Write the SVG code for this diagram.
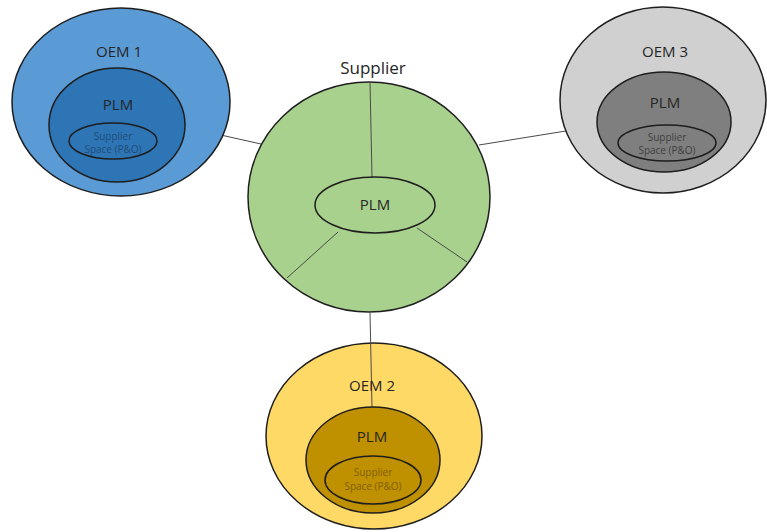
<svg xmlns="http://www.w3.org/2000/svg" width="767" height="532" viewBox="0 0 767 532">
  <style>
    .shape { stroke: #1e1e1e; stroke-width: 1.5; }
    .link { stroke: #4a4a4a; stroke-width: 1; fill: none; }
    text { font-family: "Open Sans", "Liberation Sans", sans-serif; text-anchor: middle; }
    .title { font-size: 15px; fill: #262626; }
    .plm { font-size: 15px; fill: #262626; }
    .space { font-size: 10px; }
  </style>
  <rect width="767" height="532" fill="#ffffff"/>

  <!-- connectors between the supplier hub and each OEM -->
  <g id="connectors">
    <line class="link" x1="185" y1="127" x2="261" y2="144"/>
    <line class="link" x1="479" y1="145" x2="597" y2="126"/>
  </g>

  <!-- supplier hub -->
  <g id="supplier">
    <ellipse class="shape" cx="369" cy="197" rx="121" ry="115" fill="#a9d18e"/>
    <line class="link" x1="370" y1="82" x2="372" y2="177"/>
    <line class="link" x1="338" y1="232" x2="287" y2="278"/>
    <line class="link" x1="417" y1="228" x2="467" y2="262"/>
    <ellipse class="shape" cx="375" cy="205" rx="60" ry="28" fill="#a9d18e"/>
    <text class="plm" x="375" y="210">PLM</text>
    <text x="373" y="74" font-size="17" fill="#262626">Supplier</text>
  </g>

  <!-- OEM 1 -->
  <g id="oem1">
    <ellipse class="shape" cx="121" cy="102" rx="109" ry="94" fill="#5b9bd5"/>
    <ellipse class="shape" cx="117" cy="125" rx="68" ry="57" fill="#2e75b6"/>
    <ellipse class="shape" cx="113" cy="141" rx="44" ry="18" fill="#2e75b6"/>
    <text class="title" x="119" y="57">OEM 1</text>
    <text class="plm" x="118" y="110">PLM</text>
    <text class="space" x="113" y="140" fill="#1f4e79">Supplier</text>
    <text class="space" x="113" y="153" fill="#1f4e79">Space (P&amp;O)</text>
  </g>

  <!-- OEM 3 -->
  <g id="oem3">
    <ellipse class="shape" cx="663" cy="100" rx="103" ry="93" fill="#d0d0d0"/>
    <ellipse class="shape" cx="664" cy="122" rx="67" ry="50" fill="#7f7f7f"/>
    <ellipse class="shape" cx="667" cy="143" rx="49" ry="18" fill="#7f7f7f"/>
    <text class="title" x="665" y="57">OEM 3</text>
    <text class="plm" x="665" y="108">PLM</text>
    <text class="space" x="667" y="141" fill="#404040">Supplier</text>
    <text class="space" x="667" y="154" fill="#404040">Space (P&amp;O)</text>
  </g>

  <!-- OEM 2 -->
  <g id="oem2">
    <ellipse class="shape" cx="374" cy="436" rx="108" ry="93" fill="#ffd966"/>
    <line class="link" x1="370" y1="313" x2="372" y2="407"/>
    <ellipse class="shape" cx="373" cy="460" rx="67" ry="53" fill="#bf9000"/>
    <ellipse class="shape" cx="373" cy="480" rx="48" ry="24" fill="#bf9000"/>
    <text class="title" x="372" y="391">OEM 2</text>
    <text class="plm" x="372" y="442">PLM</text>
    <text class="space" x="373" y="476" fill="#7f6000">Supplier</text>
    <text class="space" x="373" y="490" fill="#7f6000">Space (P&amp;O)</text>
  </g>
</svg>
